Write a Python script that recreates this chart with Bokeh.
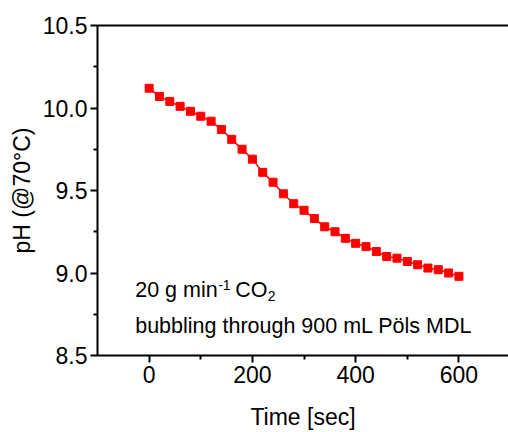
from bokeh.plotting import figure
from bokeh.models import Range1d, Label, FixedTicker, LinearAxis, PrintfTickFormatter
from bokeh.embed import file_html
from bokeh.resources import INLINE

# Data
time_sec = [0, 20, 40, 60, 80, 100, 120, 140, 160, 180, 200, 220, 240, 260, 280, 300,
            320, 340, 360, 380, 400, 420, 440, 460, 480, 500, 520, 540, 560, 580, 600]
ph = [10.12, 10.07, 10.04, 10.01, 9.98, 9.95, 9.92, 9.87, 9.81, 9.75,
      9.69, 9.61, 9.55, 9.48, 9.42, 9.38, 9.33, 9.28, 9.25, 9.21,
      9.18, 9.16, 9.13, 9.10, 9.09, 9.07, 9.05, 9.03, 9.02, 9.00, 8.98]

x_major = [0, 200, 400, 600]
x_minor = [100, 300, 500]
y_major = [8.5, 9.0, 9.5, 10.0, 10.5]
y_minor = [8.75, 9.25, 9.75, 10.25]

FONT = "Liberation Sans"

p = figure(width=508, height=432, x_range=Range1d(-100, 696), y_range=Range1d(8.5, 10.5),
           output_backend="svg", toolbar_location=None,
           min_border_left=97, min_border_right=0, min_border_top=25, min_border_bottom=74)
p.outline_line_color = None
p.grid.visible = False
p.background_fill_color = "white"
p.border_fill_color = "white"

p.line(time_sec, ph, line_color="red", line_width=1.5)
p.scatter(time_sec, ph, marker="square", size=8, fill_color="red", line_color="red")

for ax in (p.xaxis[0], p.yaxis[0]):
    ax.axis_line_width = 2
    ax.axis_line_color = "black"
    ax.major_tick_line_width = 2
    ax.minor_tick_line_width = 2
    ax.major_tick_in = 0
    ax.major_tick_out = 7
    ax.minor_tick_in = 0
    ax.minor_tick_out = 4
    ax.major_label_text_font = FONT
    ax.major_label_text_font_size = "23px"
    ax.major_label_text_color = "black"
    ax.major_label_standoff = 3
    ax.axis_label_text_font = FONT
    ax.axis_label_text_font_size = "23px"
    ax.axis_label_text_font_style = "normal"
    ax.axis_label_text_color = "black"

p.xaxis[0].ticker = FixedTicker(ticks=x_major, minor_ticks=x_minor)
p.yaxis[0].ticker = FixedTicker(ticks=y_major, minor_ticks=y_minor)
p.yaxis[0].formatter = PrintfTickFormatter(format="%.1f")
p.xaxis[0].axis_label = "Time [sec]"
p.yaxis[0].axis_label = "pH (@70°C)"
p.xaxis[0].axis_label_standoff = 18
p.yaxis[0].axis_label_standoff = 5

top = LinearAxis(ticker=FixedTicker(ticks=[]), axis_line_width=2, axis_line_color="black",
                 major_tick_out=0, major_tick_in=0, minor_tick_out=0, minor_tick_in=0,
                 major_label_text_font_size="0px")
p.add_layout(top, "above")

ax0, ay0 = -27, 8.896
common = dict(text_font=FONT, text_color="black", text_baseline="alphabetic", x=ax0, y=ay0)
p.add_layout(Label(text="20 g min", text_font_size="21.5px", **common))
p.add_layout(Label(text="-1", text_font_size="14px", x_offset=83, y_offset=5, **common))
p.add_layout(Label(text="CO", text_font_size="21.5px", x_offset=100, **common))
p.add_layout(Label(text="2", text_font_size="14px", x_offset=132.5, y_offset=-6, **common))
p.add_layout(Label(text="bubbling through 900 mL Pöls MDL", text_font_size="21.5px",
                   x=ax0, y=8.676, text_font=FONT, text_color="black", text_baseline="alphabetic"))

open("out.html", "w").write(file_html(p, INLINE))
